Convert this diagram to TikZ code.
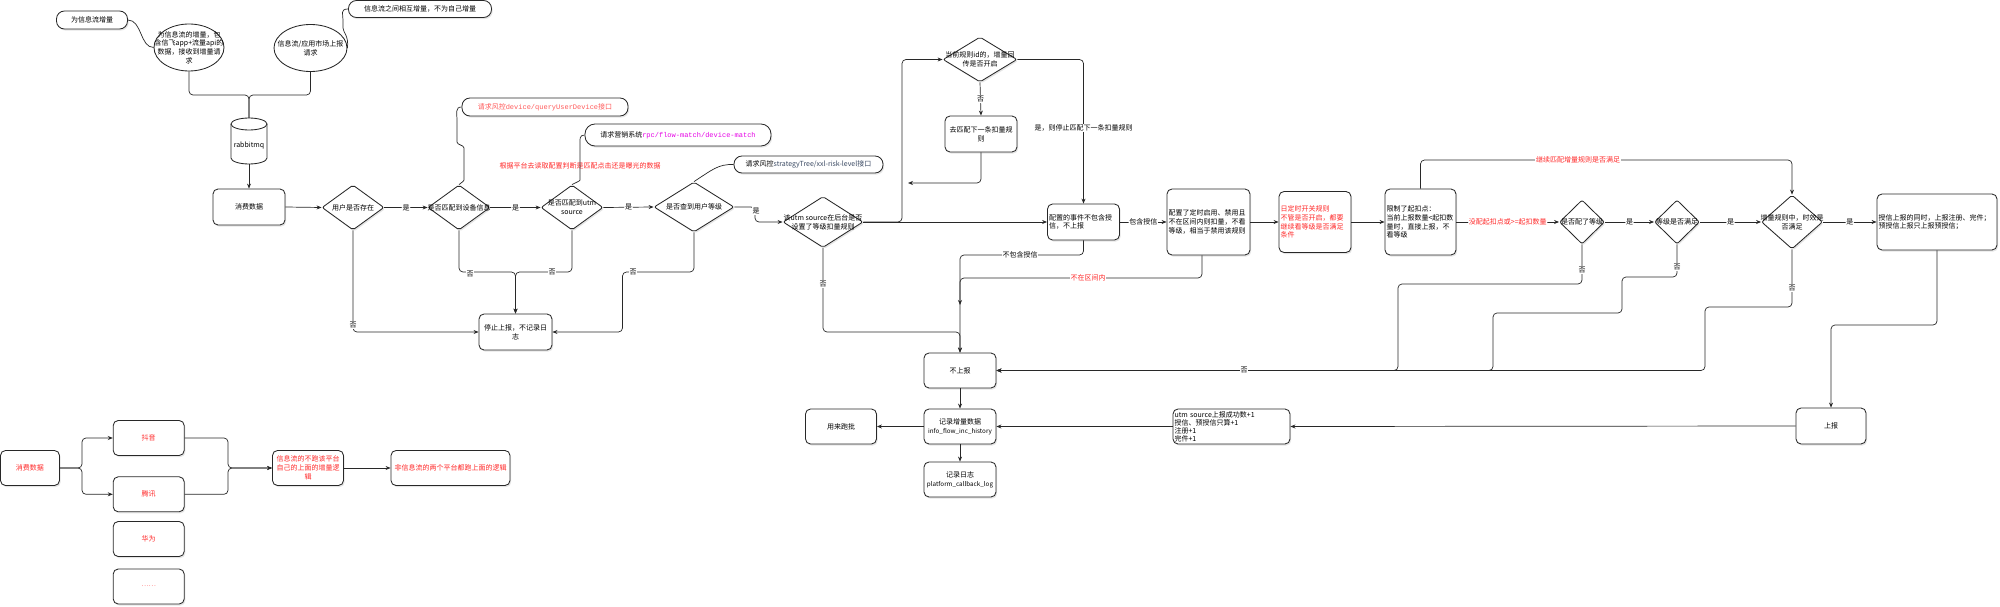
\documentclass[tikz,border=0pt]{standalone}
\usepackage{fontspec}
\setmainfont{Noto Sans CJK SC}
\setmonofont{Liberation Mono}
\usetikzlibrary{shapes.geometric,arrows.meta,shadows}
\definecolor{lred}{RGB}{255,40,40}
\definecolor{pred}{RGB}{255,90,90}
\definecolor{mag}{RGB}{230,0,230}
\definecolor{slate}{RGB}{60,75,100}
\definecolor{ln}{RGB}{40,40,40}
\begin{document}
\begin{tikzpicture}[x=1pt,y=-1pt,
  font=\fontsize{7}{8.7}\selectfont,
  shd/.style={drop shadow={opacity=0.2,shadow xshift=1.2pt,shadow yshift=-1.6pt}},
  box/.style={draw=ln, line width=0.85pt, rounded corners=5pt, fill=white, align=center, inner sep=1.5pt, shd},
  sz/.style 2 args={minimum width=#1, minimum height=#2},
  lt/.style={align=left, text width=#1},
  dia/.style={diamond, draw=ln, line width=0.85pt, fill=white, inner sep=0pt, rounded corners=2pt, shd},
  ell/.style={ellipse, draw=ln, line width=0.85pt, fill=white, inner sep=0pt},
  pill/.style={draw=ln, line width=0.85pt, rounded corners=8pt, fill=white, inner sep=1.5pt, shd},
  dt/.style={align=center, inner sep=0pt},
  con/.style={draw=ln, line width=0.7pt, rounded corners=4pt},
  arr/.style={con, -{Stealth[length=5pt,width=4pt]}},
  el/.style={fill=white, inner sep=0.8pt},
]
\fill[white] (0,0) rectangle (2000,607);
\useasboundingbox (0,0) rectangle (2000,607);

% ---------- top sources ----------
\node[pill, sz={71}{18}] (p1) at (92,20) {为信息流增量};
\node[ell, sz={70}{47}, label={[dt]center:{为信息流的增量，包\\含信飞app+流量api的\\数据，接收到增量请\\求}}] (e1) at (189,47.5) {};
\node[ell, sz={73}{47}, label={[dt]center:{信息流/应用市场上报\\请求}}] (e2) at (310.5,48) {};
\node[pill, sz={143}{17}] (p2) at (420,9) {信息流之间相互增量，不为自己增量};

% cylinder
\draw[draw=ln, line width=0.85pt, fill=white] (231,124) -- (231,158) arc[start angle=180,end angle=360,x radius=18pt,y radius=6pt] -- (267,124) arc[start angle=0,end angle=180,x radius=18pt,y radius=6pt] -- cycle;
\draw[draw=ln, line width=0.85pt] (231,124) arc[start angle=180,end angle=360,x radius=18pt,y radius=6pt];
\node[sz={36}{46}, inner sep=0pt, label={[dt,yshift=-5pt]center:rabbitmq}] (mq) at (249,141) {};

% ---------- main row ----------
\node[box, sz={72}{36}] (xf) at (249,207) {消费数据};
\node[dia, sz={62}{45}, label={[dt]center:用户是否存在}] (d1) at (353,207.5) {};
\node[dia, sz={62}{45}, label={[dt]center:是否匹配到设备信息}] (d2) at (459,207.5) {};
\node[dia, sz={62}{45}, label={[dt]center:{是否匹配到utm\\source}}] (d3) at (572,207.5) {};
\node[dia, sz={80}{50}, label={[dt]center:是否查到用户等级}] (d4) at (694,207) {};
\node[box, sz={73}{36}] (stop) at (515.5,332) {停止上报，不记录日\\志};

\node[pill, sz={166}{18}] (pD) at (545,107) {\color{pred}请求风控\texttt{device/queryUserDevice}接口};
\node[pill, sz={186}{22}, rounded corners=10pt] (pR) at (678,135) {请求营销系统{\color{mag}\texttt{rpc/flow-match/device-match}}};
\node[pill, sz={149}{17}] (pS) at (808.5,164.5) {请求风控{\color{slate}strategyTree/xxl-risk-level接口}};
\node[text=lred] (nt) at (580,166) {根据平台去读取配置判断是匹配点击还是曝光的数据};

\node[dia, sz={80}{51}, label={[dt]center:{该utm source在后台是否\\设置了等级扣量规则}}] (d5) at (823,222) {};
\node[dia, sz={74}{45}, label={[dt]center:{当前规则id的，增量回\\传是否开启}}] (d6) at (980,59.5) {};
\node[box, sz={72}{36}] (qp) at (981,134) {去匹配下一条扣量规\\则};
\node[box, sz={72}{36}, lt=69] (cfg) at (1083.5,222) {配置的事件不包含授\\信，不上报};
\node[box, sz={83}{66}, lt=80] (tmr) at (1208.5,222) {配置了定时启用、禁用且\\不在区间内则扣量，不看\\等级，相当于禁用该规则};
\node[box, sz={72}{61}, lt=69, text=lred] (rbx) at (1315,222) {日定时开关规则\\不管是否开启，都要\\继续看等级是否满足\\条件};
\node[box, sz={71}{66}, lt=68] (lim) at (1420.5,222) {限制了起扣点：\\当前上报数量<起扣数\\量时，直接上报，不\\看等级};
\node[dia, sz={45}{44}, label={[dt]center:是否配了等级}] (d7) at (1582,222) {};
\node[dia, sz={45}{44}, label={[dt]center:等级是否满足}] (d8) at (1677,222) {};
\node[dia, sz={61}{54}, label={[dt]center:{增量规则中，时效是\\否满足}}] (d9) at (1792,222) {};
\node[box, sz={120}{56}, lt=117] (sx) at (1937,222) {授信上报的同时，上报注册、完件；\\预授信上报只上报预授信；};

\node[box, sz={72}{35}] (bsb) at (960,370.5) {不上报};
\node[box, sz={72}{35}] (jl) at (960,426.5) {记录增量数据\\{\fontsize{6.3}{8.7}\selectfont info\_flow\_inc\_history}};
\node[box, sz={72}{35}] (rz) at (960,479.5) {记录日志\\{\fontsize{6.3}{8.7}\selectfont platform\_callback\_log}};
\node[box, sz={71}{35}] (pb) at (841,426.5) {用来跑批};
\node[box, sz={117}{35}, lt=114, font=\fontsize{7}{8}\selectfont] (utm) at (1231.5,426.5) {utm source上报成功数+1\\授信、预授信只算+1\\注册+1\\完件+1};
\node[box, sz={70}{36}] (sb) at (1831,426) {上报};

\coordinate (qpe) at (908,183);
\coordinate (nz) at (960,305);

% ---------- bottom-left section ----------
\node[box, sz={59}{35}, text=lred] (xf2) at (30,468) {消费数据};
\node[box, sz={71}{35}, text=lred] (dy) at (148.7,438) {抖音};
\node[box, sz={71}{35}, text=lred] (tx) at (148.7,494.3) {腾讯};
\node[box, sz={71}{35}, text=lred] (hw) at (148.7,539) {华为};
\node[box, sz={71}{35}, text=pred] (dots) at (148.7,586.5) {……};
\node[box, sz={71}{35}, text=lred] (xx) at (308,468) {信息流的不跑该平台\\自己的上面的增量逻\\辑};
\node[box, sz={119}{35}, text=lred] (fxx) at (450.5,468) {非信息流的两个平台都跑上面的逻辑};

% ---------- connectors ----------
\draw[con] (p1.east) .. controls (142,20) and (140,47.5) .. (e1.west);
\draw[con] (p2.west) .. controls (340,9) and (343,14) .. (343,24) .. controls (343,32) and (349,36) .. (e2.east);
\draw[con] (e1.south) -- (189,95) -- (249,95) -- (mq.north);
\draw[con] (e2.south) -- (310.5,95) -- (249,95) -- (mq.north);
\draw[arr] (mq.south) -- (xf.north);

\draw[arr] (xf.east) -- (d1.west);
\draw[arr] (d1.east) -- node[el] (l1) {是} (d2.west);
\draw[arr] (d2.east) -- node[el] (l2) {是} (d3.west);
\draw[arr] (d3.east) -- node[el] (l3) {是} (d4.west);
\draw[arr] (d1.south) -- (353,332) -- (stop.west);
\node[el] (l4) at (353,325) {否};
\draw[arr] (d2.south) -- (459,272) -- (515.5,272) -- (stop.north);
\node[el] (l5) at (470,274) {否};
\draw[arr] (d3.south) -- (572,272) -- (515.5,272) -- (stop.north);
\node[el] (l6) at (552,272) {否};
\draw[arr] (d4.south) -- (694,272) -- (622.5,272) -- (622.5,332) -- (stop.east);
\node[el] (l7) at (633,272) {否};

\draw[con] (pD.west) .. controls (455,107) and (457,113) .. (457,125) -- (457,138) .. controls (457,145) and (464,145) .. (464,152) -- (464,176) .. controls (464,181) and (461,183) .. (d2.north);
\draw[con] (pR.west) .. controls (579,135) and (580,140) .. (580,148) -- (580,176) .. controls (580,181) and (575,183) .. (d3.north);
\draw[con] (pS.west) .. controls (718,164) and (712,170) .. (d4.north);

\draw[arr] (d4.east) -- (755,207) -- (755,222) -- (d5.west);
\node[el] (l8) at (756,211) {是};
\draw[arr] (d5.east) -- (cfg.west);
\draw[arr] (d5.east) -- (902,222) -- (902,59.5) -- (d6.west);
\draw[arr] (d6.south) -- node[el] (l9) {否} (qp.north);
\draw[arr] (d6.east) -| (cfg.north);
\node[el] (l10) at (1083.5,128) {是，则停止匹配下一条扣量规则};
\draw[arr] (qp.south) |- (qpe);
\draw[arr] (d5.south) -- (823,332) -- (960,332) -- (bsb.north);
\node[el] (l11) at (823,284) {否};
\draw[arr] (cfg.south) -- (1083.5,255) -- (960,255) -- (bsb.north);
\node[el] (l12) at (1020,255) {不包含授信};
\draw[arr] ([xshift=-6.5pt]tmr.south) -- (1202,278) -- (960,278) -- (nz);
\node[el, text=lred] (l13) at (1088,278) {不在区间内};

\draw[arr] (cfg.east) -- node[el] (l14) {包含授信} (tmr.west);
\draw[arr] (tmr.east) -- (rbx.west);
\draw[arr] (rbx.east) -- (lim.west);
\draw[arr] (lim.east) -- node[el, text=lred] (l15) {没配起扣点或>=起扣数量} (d7.west);
\draw[arr] (lim.north) -- (1420.5,160) -- (1792,160) -- (d9.north);
\node[el, text=lred] (l16) at (1578,160) {继续匹配增量规则是否满足};
\draw[arr] (d7.east) -- node[el] (l17) {是} (d8.west);
\draw[arr] (d8.east) -- node[el] (l18) {是} (d9.west);
\draw[arr] (d9.east) -- node[el] (l19) {是} (sx.west);

\draw[arr] (d7.south) -- (1582,284) -- (1398,284) -- (1398,370.5) -- (bsb.east);
\node[el] (l20) at (1582,270) {否};
\draw[arr] (d8.south) -- (1677,277) -- (1622,277) -- (1622,313) -- (1493,313) -- (1493,370.5) -- (bsb.east);
\node[el] (l21) at (1677,267) {否};
\draw[arr] (d9.south) -- (1792,307) -- (1705,307) -- (1705,370.5) -- (bsb.east);
\node[el] (l22) at (1792,288) {否};
\node[el] (l23) at (1244,370.5) {否};

\draw[arr] (sx.south) -- (1937,325) -- (1831,325) -- (sb.north);
\draw[arr] (sb.west) -- (utm.east);
\draw[arr] (utm.west) -- (jl.east);
\draw[arr] (bsb.south) -- (jl.north);
\draw[arr] (jl.south) -- (rz.north);
\draw[arr] (jl.west) -- (pb.east);

\draw[arr] (xf2.east) -- (82,468) -- (82,438) -- (dy.west);
\draw[arr] (xf2.east) -- (82,468) -- (82,494.3) -- (tx.west);
\draw[arr] (dy.east) -- (228,438) -- (228,468) -- (xx.west);
\draw[arr] (tx.east) -- (228,494.3) -- (228,468) -- (xx.west);
\draw[arr] (xx.east) -- (fxx.west);
\end{tikzpicture}
\end{document}
